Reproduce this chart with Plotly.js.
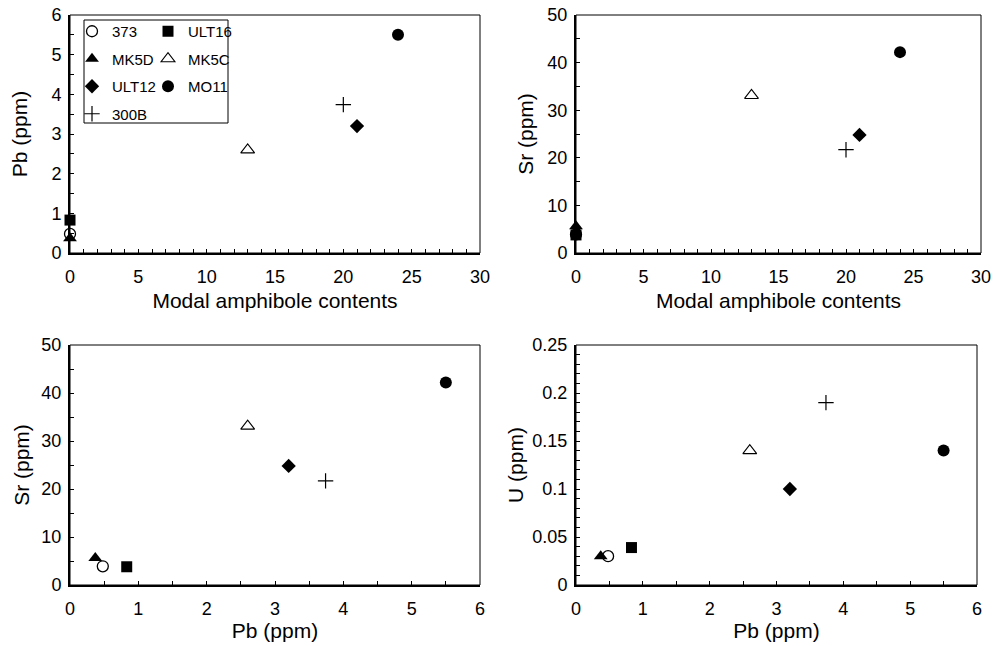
<!DOCTYPE html>
<html>
<head>
<meta charset="utf-8">
<script src="https://cdn.plot.ly/plotly-3.0.1.min.js"></script>
<style>html,body{margin:0;padding:0;background:#fff;}#chart{width:1005px;height:646px;}</style>
</head>
<body>
<div id="chart"></div>
<script>
// ---- data ----
var samples = ['373', 'ULT16', 'MK5D', 'MK5C', 'ULT12', 'MO11', '300B'];
var amphibole = [0, 0, 0, 13, 21, 24, 20];          // modal amphibole contents
var pbPpm     = [0.48, 0.83, 0.37, 2.6, 3.2, 5.5, 3.74];
var srPpm     = [3.9, 3.8, 5.6, 33.1, 24.8, 42.2, 21.7];
var uPpm      = [0.03, 0.039, 0.03, 0.14, 0.10, 0.14, 0.19];

// ---- styles ----
var markerStyles = {
  '373':   {symbol: 'circle-open', size: 11, color: '#000', line: {width: 1.3, color: '#000'}},
  'ULT16': {symbol: 'square', size: 11, color: '#000'},
  'MK5D':  {symbol: 'triangle-up', size: 12, color: '#000'},
  'MK5C':  {symbol: 'triangle-up-open', size: 12, color: '#000', line: {width: 1.1, color: '#000'}},
  'ULT12': {symbol: 'diamond', size: 11, color: '#000'},
  'MO11':  {symbol: 'circle', size: 12, color: '#000'},
  '300B':  {symbol: 'cross-thin-open', size: 11, color: '#000', line: {width: 1.2, color: '#000'}}
};
var legendCol = {'373': 'legend', 'MK5D': 'legend', 'ULT12': 'legend', '300B': 'legend',
                 'ULT16': 'legend2', 'MK5C': 'legend2', 'MO11': 'legend2'};

var panels = [
  {xs: amphibole, ys: pbPpm, xa: 'x',  ya: 'y'},
  {xs: amphibole, ys: srPpm, xa: 'x2', ya: 'y2'},
  {xs: pbPpm,     ys: srPpm, xa: 'x3', ya: 'y3'},
  {xs: pbPpm,     ys: uPpm,  xa: 'x4', ya: 'y4'}
];

var traces = [];
panels.forEach(function (p, pi) {
  samples.forEach(function (s, i) {
    traces.push({
      type: 'scatter', mode: 'markers',
      x: [p.xs[i]], y: [p.ys[i]],
      xaxis: p.xa, yaxis: p.ya,
      name: s, legendgroup: s,
      legend: legendCol[s],
      showlegend: pi === 0,
      marker: markerStyles[s],
      cliponaxis: false,
      hoverinfo: 'x+y+name'
    });
  });
});

var W = 1005, H = 646;
function xd(a, b) { return [a / W, b / W]; }
function yd(top, bot) { return [1 - bot / H, 1 - top / H]; }

var FONT = 'Liberation Sans, Arial, Helvetica, sans-serif';
function axis(extra, isX) {
  var base = {
    showline: true, linecolor: '#000', linewidth: 2, mirror: false,
    ticks: 'inside', ticklen: 4, tickwidth: 1, tickcolor: '#000',
    showgrid: false, zeroline: false, automargin: false, fixedrange: true,
    ticklabelstandoff: isX ? 6 : 3,
    tickfont: {family: FONT, size: 18, color: '#000'}
  };
  for (var k in extra) base[k] = extra[k];
  return base;
}
function minor(d) { return {ticks: 'inside', ticklen: 4, tickwidth: 1, dtick: d, tickcolor: '#000', showgrid: false}; }
function ttl(text, standoff) {
  return {text: text, standoff: standoff, font: {family: FONT, size: 21, color: '#000'}};
}

var layout = {
  width: W, height: H,
  margin: {l: 0, r: 0, t: 0, b: 0},
  paper_bgcolor: '#fff', plot_bgcolor: 'rgba(0,0,0,0)',
  font: {family: FONT, color: '#000'},
  xaxis:  axis({domain: xd(70, 480), anchor: 'y',  range: [0, 30], dtick: 5, tick0: 0, minor: minor(1), title: ttl('Modal amphibole contents', 8)}, true),
  yaxis:  axis({domain: yd(15, 253), anchor: 'x',  range: [0, 6], dtick: 1, minor: minor(0.5), title: ttl('Pb (ppm)', 18)}),
  xaxis2: axis({domain: xd(576, 981), anchor: 'y2', range: [0, 30], dtick: 5, minor: minor(1), title: ttl('Modal amphibole contents', 8)}, true),
  yaxis2: axis({domain: yd(15, 253), anchor: 'x2', range: [0, 50], dtick: 10, minor: minor(5), title: ttl('Sr (ppm)', 8)}),
  xaxis3: axis({domain: xd(70, 480), anchor: 'y3', range: [0, 6], dtick: 1, minor: minor(0.5), title: ttl('Pb (ppm)', 6)}, true),
  yaxis3: axis({domain: yd(345, 585), anchor: 'x3', range: [0, 50], dtick: 10, minor: minor(5), title: ttl('Sr (ppm)', 6)}),
  xaxis4: axis({domain: xd(576, 977), anchor: 'y4', range: [0, 6], dtick: 1, minor: minor(0.5), title: ttl('Pb (ppm)', 6)}, true),
  yaxis4: axis({domain: yd(345, 585), anchor: 'x4', range: [0, 0.25], dtick: 0.05, minor: minor(0.01), title: ttl('U (ppm)', 3)}),
  legend: {
    x: 72 / W, y: 1 - 15 / H, xanchor: 'left', yanchor: 'top',
    bgcolor: 'rgba(0,0,0,0)', borderwidth: 0, tracegroupgap: 5,
    font: {family: FONT, size: 15, color: '#000'}, itemclick: false, itemdoubleclick: false
  },
  legend2: {
    x: 148 / W, y: 1 - 15 / H, xanchor: 'left', yanchor: 'top',
    bgcolor: 'rgba(0,0,0,0)', borderwidth: 0, tracegroupgap: 5,
    font: {family: FONT, size: 15, color: '#000'}, itemclick: false, itemdoubleclick: false
  },
  shapes: [
    {type: 'rect', xref: 'x domain', yref: 'y domain', x0: 0, x1: 1, y0: 0, y1: 1, line: {color: '#000', width: 1}},
    {type: 'rect', xref: 'x2 domain', yref: 'y2 domain', x0: 0, x1: 1, y0: 0, y1: 1, line: {color: '#000', width: 1}},
    {type: 'rect', xref: 'x3 domain', yref: 'y3 domain', x0: 0, x1: 1, y0: 0, y1: 1, line: {color: '#000', width: 1}},
    {type: 'rect', xref: 'x4 domain', yref: 'y4 domain', x0: 0, x1: 1, y0: 0, y1: 1, line: {color: '#000', width: 1}},
    // legend frame
    {type: 'rect', xref: 'paper', yref: 'paper', x0: 84 / W, x1: 228 / W, y0: 1 - 123 / H, y1: 1 - 20 / H, line: {color: '#000', width: 1}}
  ]
};

Plotly.newPlot('chart', traces, layout, {displayModeBar: false, staticPlot: false, responsive: false});
</script>
</body>
</html>
